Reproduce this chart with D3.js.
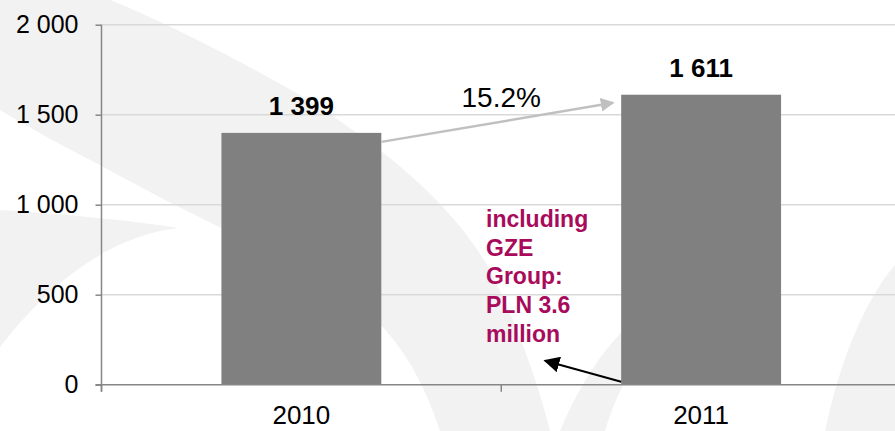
<!DOCTYPE html>
<html>
<head>
<meta charset="utf-8">
<script src="https://cdn.jsdelivr.net/npm/d3@7/dist/d3.min.js"></script>
<style>
  html, body { margin: 0; padding: 0; background: #fff; }
  svg { display: block; font-family: "Liberation Sans", Arial, sans-serif; }
</style>
</head>
<body>
<svg id="chart" width="895" height="431"></svg>
<script>
const categories = ["2010", "2011"];
const values = [1399, 1611];
const valueLabels = ["1 399", "1 611"];
const yTicks = [0, 500, 1000, 1500, 2000];
const yTickLabels = ["0", "500", "1 000", "1 500", "2 000"];
const growthLabel = "15.2%";
const noteLines = ["including", "GZE", "Group:", "PLN 3.6", "million"];

(function () {
const svg = d3.select("#chart");
const W = 895, H = 431;
const mLeft = 101.5, mRight = 901, mTop = 24.7, mBottom = 384.7;

// watermark
const wm = svg.append("g").attr("fill", "#f2f2f2");
wm.append("path").attr("d",
  "M0,0 L110,0 C160,20 230,55 300,95 C380,145 450,200 490,270 C520,330 540,390 550,431 L440,431 C420,370 390,320 330,285 C260,245 180,210 100,165 C60,145 25,125 0,110 Z");
wm.append("path").attr("d",
  "M0,210 C60,214 130,220 178,228 C120,235 60,270 0,347 Z");
wm.append("path").attr("d",
  "M470,360 L500,300 L530,431 L515,431 Z");
wm.append("path").attr("d",
  "M560,431 C590,360 630,310 690,285 L700,300 C650,330 620,380 605,431 Z");
wm.append("path").attr("d",
  "M825,431 C840,360 865,300 895,265 L895,431 Z");

const x = d3.scaleBand().domain(categories).range([mLeft, mRight]).paddingInner(0.6).paddingOuter(0.3);
const y = d3.scaleLinear().domain([0, 2000]).range([mBottom, mTop]);

// gridlines
svg.append("g").selectAll("line").data(yTicks.filter(d => d > 0)).join("line")
  .attr("x1", mLeft).attr("x2", W)
  .attr("y1", d => y(d)).attr("y2", d => y(d))
  .attr("stroke", "#d9d9d9").attr("stroke-width", 1.5);

// y axis
const yAxis = d3.axisLeft(y).tickValues(yTicks)
  .tickFormat((d, i) => yTickLabels[i]).tickSize(6).tickPadding(17);
const gy = svg.append("g").attr("transform", `translate(${mLeft},0)`).call(yAxis);
gy.select(".domain").attr("stroke", "#868686").attr("stroke-width", 1.5)
  .attr("d", `M0,${mTop}V${mBottom + 7}`);
gy.selectAll(".tick line").attr("stroke", "#868686").attr("stroke-width", 1.5);
gy.selectAll(".tick text").attr("font-size", 25).attr("fill", "#000")
  .attr("font-family", "Liberation Sans, Arial, sans-serif");

// bars
svg.append("g").selectAll("rect").data(values).join("rect")
  .attr("x", (d, i) => x(categories[i]))
  .attr("y", d => y(d))
  .attr("width", x.bandwidth())
  .attr("height", d => y(0) - y(d))
  .attr("fill", "#808080");

// x axis
const gx = svg.append("g").attr("transform", `translate(0,${mBottom})`);
gx.append("line").attr("x1", mLeft - 6).attr("x2", W).attr("y1", 0).attr("y2", 0)
  .attr("stroke", "#868686").attr("stroke-width", 1.5);
const step = x.step();
const bounds = d3.range(categories.length + 1).map(i => mLeft + i * step);
gx.selectAll("line.tk").data(bounds).join("line").attr("class", "tk")
  .attr("x1", d => d).attr("x2", d => d).attr("y1", 0).attr("y2", 7)
  .attr("stroke", "#868686").attr("stroke-width", 1.5);
gx.selectAll("text").data(categories).join("text")
  .attr("x", d => x(d) + x.bandwidth() / 2).attr("y", 39.5)
  .attr("text-anchor", "middle").attr("font-size", 26).attr("fill", "#000")
  .text(d => d);

// value labels
svg.append("g").selectAll("text").data(values).join("text")
  .attr("x", (d, i) => x(categories[i]) + x.bandwidth() / 2)
  .attr("y", d => y(d) - 17.5)
  .attr("text-anchor", "middle").attr("font-size", 26).attr("font-weight", "bold")
  .attr("fill", "#000")
  .text((d, i) => valueLabels[i]);

// defs markers
const defs = svg.append("defs");
defs.append("marker").attr("id", "gArrow").attr("viewBox", "0 0 10 10")
  .attr("refX", 9).attr("refY", 5).attr("markerWidth", 5.5).attr("markerHeight", 5.5)
  .attr("markerUnits", "strokeWidth").attr("orient", "auto")
  .append("path").attr("d", "M0,0 L10,5 L0,10 Z").attr("fill", "#c0c0c0");
defs.append("marker").attr("id", "bArrow").attr("viewBox", "0 0 10 10")
  .attr("refX", 9).attr("refY", 5).attr("markerWidth", 8).attr("markerHeight", 8)
  .attr("markerUnits", "strokeWidth").attr("orient", "auto")
  .append("path").attr("d", "M0,0 L10,5 L0,10 Z").attr("fill", "#000");

// growth arrow
const x0 = x(categories[0]) + x.bandwidth();
const x1 = x(categories[1]);
svg.append("line")
  .attr("x1", x0).attr("y1", y(values[0]) + 9)
  .attr("x2", x1 - 8).attr("y2", y(values[1]) + 8)
  .attr("stroke", "#c0c0c0").attr("stroke-width", 2.5)
  .attr("marker-end", "url(#gArrow)");
svg.append("text").attr("x", (x0 + x1) / 2).attr("y", 107)
  .attr("text-anchor", "middle").attr("font-size", 28).attr("fill", "#000")
  .text(growthLabel);

// note
const note = svg.append("text").attr("font-size", 23).attr("font-weight", "bold")
  .attr("fill", "#a80b5c");
note.selectAll("tspan").data(noteLines).join("tspan")
  .attr("x", 486).attr("y", (d, i) => 227 + i * 28.7).text(d => d);

// black arrow
svg.append("line")
  .attr("x1", x1).attr("y1", y(0) - 3)
  .attr("x2", 545).attr("y2", y(0) - 24)
  .attr("stroke", "#000").attr("stroke-width", 2)
  .attr("marker-end", "url(#bArrow)");
})();
</script>
</body>
</html>
